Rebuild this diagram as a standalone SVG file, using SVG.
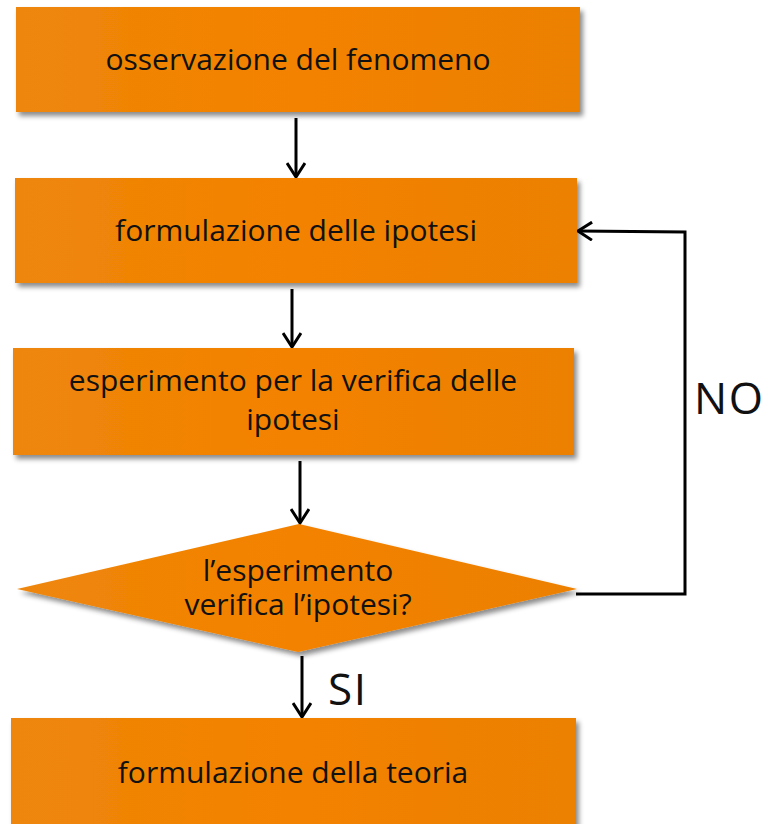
<svg xmlns="http://www.w3.org/2000/svg" width="773" height="824" viewBox="0 0 773 824">
<defs>
<filter id="sh" x="-5%" y="-10%" width="115%" height="130%">
<feDropShadow dx="3" dy="4" stdDeviation="2.5" flood-color="#000" flood-opacity="0.45"/>
</filter>
<linearGradient id="og" x1="0" y1="0" x2="1" y2="0">
<stop offset="0" stop-color="#EE860A"/>
<stop offset="0.5" stop-color="#F38200"/>
<stop offset="1" stop-color="#EC8001"/>
</linearGradient>
<marker id="ah" viewBox="0 0 20 20" refX="18" refY="10" markerWidth="20" markerHeight="20" markerUnits="userSpaceOnUse" orient="auto">
<path d="M4,1 L18,10 L4,19" fill="none" stroke="#000" stroke-width="3"/>
</marker>
</defs>
<style>
.n{fill:url(#og);filter:url(#sh)}
.t{font-family:"Open Sans","Noto Sans",sans-serif;font-size:30px;fill:#111;text-anchor:middle}
.l{font-family:"Open Sans","Noto Sans",sans-serif;font-size:44px;letter-spacing:1.5px;fill:#111}
.c{fill:none;stroke:#000;stroke-width:3}
</style>
<rect width="773" height="824" fill="#fff"/>
<g id="connectors">
<line class="c" x1="296" y1="118" x2="296" y2="177" marker-end="url(#ah)"/>
<line class="c" x1="292" y1="289" x2="292" y2="347" marker-end="url(#ah)"/>
<line class="c" x1="300" y1="461" x2="300" y2="523" marker-end="url(#ah)"/>
<line class="c" x1="302" y1="656" x2="302" y2="717" marker-end="url(#ah)"/>
<polyline class="c" points="576,594 685,594 685,232 578,231" marker-end="url(#ah)"/>
<text class="l" x="694" y="414">NO</text>
<text class="l" x="328" y="705">SI</text>
</g>
<g id="n1">
<rect class="n" x="16" y="7" width="564" height="105"/>
<text class="t" x="298" y="70">osservazione del fenomeno</text>
</g>
<g id="n2">
<rect class="n" x="15" y="178" width="562" height="105"/>
<text class="t" x="296" y="241">formulazione delle ipotesi</text>
</g>
<g id="n3">
<rect class="n" x="13" y="348" width="561" height="107"/>
<text class="t" x="293" y="391">esperimento per la verifica delle</text>
<text class="t" x="293" y="430">ipotesi</text>
</g>
<g id="n4">
<polygon class="n" points="299,524 577,589 298,652 17,589"/>
<text class="t" x="298" y="581">l’esperimento</text>
<text class="t" x="298" y="615">verifica l’ipotesi?</text>
</g>
<g id="n5">
<rect class="n" x="11" y="718" width="565" height="110"/>
<text class="t" x="293" y="783">formulazione della teoria</text>
</g>
</svg>
